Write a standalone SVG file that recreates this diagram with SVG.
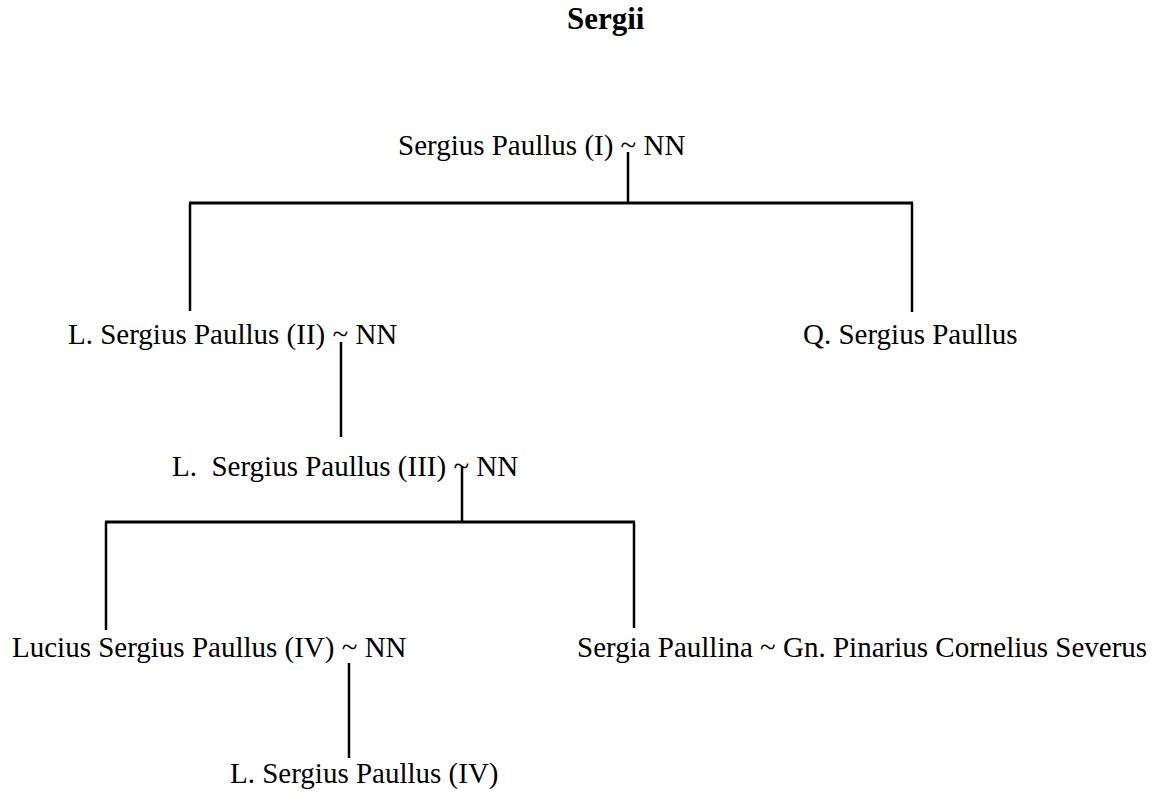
<svg xmlns="http://www.w3.org/2000/svg" width="1158" height="794" viewBox="0 0 1158 794">
<style>
text{font-family:"Liberation Serif","Times New Roman",serif;font-size:29px;fill:#000;white-space:pre}
.title{font-weight:bold;font-size:31px}
.c line{stroke:#000;stroke-linecap:butt}
.h{stroke-width:3}
.v{stroke-width:2.5}
</style>
<rect width="1158" height="794" fill="#fff"/>
<g id="title"><text class="title" x="567" y="29">Sergii</text></g>
<g id="connectors" class="c">
<line class="v" x1="628" y1="152" x2="628" y2="203"/>
<line class="h" x1="189" y1="203" x2="913" y2="203"/>
<line class="v" x1="190" y1="203" x2="190" y2="311"/>
<line class="v" x1="912" y1="203" x2="912" y2="312"/>
<line class="v" x1="341" y1="342" x2="341" y2="437"/>
<line class="v" x1="462" y1="466" x2="462" y2="522"/>
<line class="h" x1="105" y1="522" x2="635" y2="522"/>
<line class="v" x1="106" y1="522" x2="106" y2="630"/>
<line class="v" x1="634" y1="522" x2="634" y2="628"/>
<line class="v" x1="349" y1="663" x2="349" y2="758"/>
</g>
<g id="n1"><text x="398" y="155">Sergius Paullus (I) ~ NN</text></g>
<g id="n2"><text x="68" y="344">L. Sergius Paullus (II) ~ NN</text></g>
<g id="n3"><text x="803" y="344">Q. Sergius Paullus</text></g>
<g id="n4"><text x="172" y="476">L.  Sergius Paullus (III) ~ NN</text></g>
<g id="n5"><text x="12" y="657">Lucius Sergius Paullus (IV) ~ NN</text></g>
<g id="n6"><text x="577" y="657">Sergia Paullina ~ Gn. Pinarius Cornelius Severus</text></g>
<g id="n7"><text x="230" y="783">L. Sergius Paullus (IV)</text></g>
</svg>
